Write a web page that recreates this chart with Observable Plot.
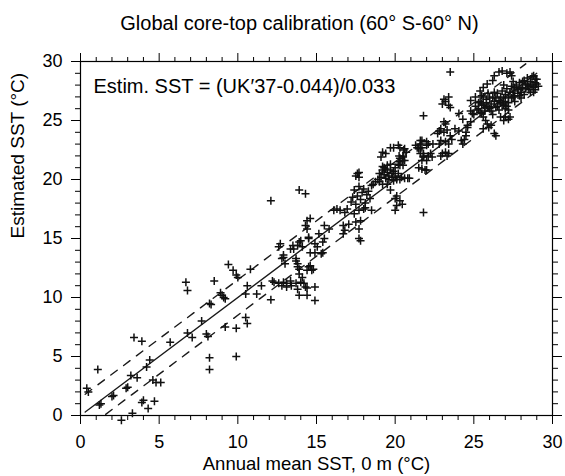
<!DOCTYPE html>
<html>
<head>
<meta charset="utf-8">
<script src="https://cdn.jsdelivr.net/npm/d3@7"></script>
<script src="https://cdn.jsdelivr.net/npm/@observablehq/plot@0.6"></script>
<style>
  html, body { margin: 0; padding: 0; background: #fff; }
  body { width: 565px; height: 476px; overflow: hidden; font-family: "Liberation Sans", Arial, Helvetica, sans-serif; color: #000; }
  #title { height: 40px; box-sizing: border-box; padding-top: 6px; line-height: 34px; font-size: 20px; margin-left: 34px; width: 531px; text-align: center; white-space: nowrap; }
</style>
</head>
<body>
<div id="title">Global core-top calibration (60° S-60° N)</div>
<div id="chart"></div>
<script>
// ---- text ----
const titleText = "Global core-top calibration (60° S-60° N)";
const xLabel = "Annual mean SST, 0 m (°C)";
const yLabel = "Estimated SST (°C)";
const equation = "Estim. SST = (UK′37-0.044)/0.033";

// ---- axis ticks ----
const majorTicks = [0, 5, 10, 15, 20, 25, 30];
const minorTicks = [1,2,3,4,6,7,8,9,11,12,13,14,16,17,18,19,21,22,23,24,26,27,28,29];

// ---- calibration lines (x, y) ----
const fitX = [0.3, 29.0];
const fitY = [0.3, 29.0];
const upperX = [0.3, 28.3];
const upperY = [1.8, 29.8];
const lowerX = [1.6, 29.2];
const lowerY = [0.1, 27.7];

// ---- core-top samples: [annual mean SST, estimated SST] ----
const pointsCold = [
  [0.4,2.3],[0.5,2.0],[1.1,3.9],[1.2,0.9],[1.3,1.0],[2.0,1.6],[2.1,1.7],[2.6,-0.4],[2.9,2.3],[3.0,2.4],
  [3.2,3.4],[3.3,0.2],[3.6,3.2],[3.4,6.6],[3.9,6.3],[3.9,1.1],[4.0,1.3],[4.2,4.1],[4.4,4.7],[4.3,0.6],
  [4.6,3.0],[4.7,1.2],[4.8,2.8],[5.1,2.8],[5.7,6.2],[6.7,11.3],[6.8,10.6],[6.8,7.0],[7.1,6.6],[7.7,8.0],
  [8.0,6.9],[8.1,6.7],[8.2,4.9],[8.2,3.9],[8.2,9.5],[8.3,9.4],[8.5,11.4],[8.9,10.4],[9.0,10.2],[9.1,10.0],
  [9.2,9.9],[9.2,7.5],[9.4,12.8],[9.7,12.3],[9.9,11.9],[10.0,11.7],[9.9,7.4],[9.9,5.0]
];
const pointsTemperate = [
  [10.5,10.3],[10.5,8.3],[10.6,7.8],[10.8,12.4],[10.6,11.0],[11.2,10.3],[11.5,11.0],[12.2,11.4],[12.1,9.8],[12.1,18.2],
  [12.3,11.3],[12.6,11.2],[12.9,11.3],[13.1,11.2],[13.35,11.4],[13.7,11.2],[14.0,11.3],[12.8,11.0],[13.1,10.9],[13.4,11.0],
  [13.8,10.7],[14.3,10.9],[13.9,10.2],[14.4,10.2],[14.9,9.75],[14.9,10.9],[14.1,11.7],[14.2,11.2],[14.4,10.8],
  [12.7,14.55],[13.35,14.1],[12.9,13.4],[13.0,12.85],[13.7,13.3],[13.8,12.85],[13.9,12.4],[14.4,12.3],[14.7,12.3],[14.5,12.6],
  [14.0,14.8],[14.1,14.3],[14.5,15.1],[14.9,14.55],[15.3,13.7],[14.3,16.1],[14.6,16.7],[15.15,15.4],
  [12.6,14.3],[12.9,13.6],[12.8,13.3],[13.7,13.1],[13.8,12.6],[13.9,12.0],[13.5,14.4],[13.55,14.1],[13.9,14.7],[13.8,14.4],
  [13.9,19.1],[14.3,18.8],[14.4,16.5],[14.4,15.8],[14.5,15.0],[14.9,13.8],[15.4,13.8],[15.5,15.0],[14.6,12.7],[14.8,12.4],
  [15.4,14.7],[15.05,14.3],[14.6,13.8],[15.5,16.1],[15.8,15.8],[16.1,17.4],[16.3,17.5],[16.5,17.4],[16.8,17.2],[16.95,17.5],
  [16.7,16.1],[17.05,16.2],[16.8,15.7],[16.7,15.4],[17.8,16.5],[17.8,14.8],[17.7,15.8],[17.5,16.4],[17.7,15.0]
];
const pointsSubtropical = [
  [17.5,20.3],[17.7,20.2],[17.7,20.6],[17.6,20.5],[17.2,18.1],[17.6,18.6],[17.4,19.1],[17.3,18.5],[17.5,17.9],[17.8,18.3],
  [17.9,18.9],[18.0,19.2],[18.1,18.0],[18.2,18.7],[18.3,19.0],[18.4,18.4],[17.7,19.4],[17.4,17.1],[17.7,17.4],[18.0,17.5],
  [18.1,17.6],[18.5,17.4],[18.5,19.5],[18.75,19.8],[18.6,19.6],[19.1,21.9],[19.2,22.3],[19.4,22.2],[19.7,22.7],[19.9,22.7],
  [20.2,22.9],[20.55,22.5],[20.45,21.6],[20.3,21.5],[20.2,21.3],[18.9,20.0],[19.0,20.5],[19.1,20.2],[19.2,20.8],[19.3,20.4],
  [19.3,21.0],[19.4,20.1],[19.5,20.6],[19.5,21.2],[19.6,20.3],[19.6,20.0],[19.7,20.8],[19.8,20.2],[19.8,20.5],[19.9,19.9],
  [19.9,20.7],[20.0,20.3],[20.1,20.0],[20.2,20.5],[20.0,21.0],[19.4,20.9],[19.2,21.1],[19.7,21.3],[20.4,20.2],[20.6,20.1],
  [20.8,20.1],[20.3,20.0],[19.0,19.8],[19.2,19.6],[19.5,19.6],[19.7,19.1],[20.3,22.7],[20.25,22.0],[20.3,21.8],[20.3,21.2],
  [20.1,18.6],[20.3,18.2],[20.1,17.8],[20.0,17.4],[20.0,18.4],[20.45,17.9],[20.9,20.1],[21.3,22.9],[21.6,23.3],[21.7,22.7],
  [22.0,23.2],[21.8,22.2],[22.1,22.0],[21.4,22.7],[22.0,22.9],[21.8,22.0],[22.0,20.8],[21.8,17.2],[20.5,21.2],[20.6,21.6],
  [20.5,22.0],[20.7,22.3],[20.6,22.6],[20.5,21.9]
];
const pointsTropical = [
  [21.8,25.4],[23.0,26.4],[23.4,27.0],[23.5,26.1],[23.1,24.9],[23.2,24.7],[22.9,24.3],[23.1,24.0],[22.8,24.1],[23.3,24.2],
  [23.5,23.7],[23.4,23.0],[23.6,23.4],[24.2,23.3],[24.3,23.0],[23.2,22.3],[23.4,22.2],[22.7,23.9],[22.4,23.0],[22.1,23.0],
  [21.6,23.0],[21.5,22.6],[21.6,22.2],[21.8,21.9],[21.7,21.6],[22.0,21.6],[21.5,21.0],[21.7,20.9],[21.9,20.8],[22.25,22.2],
  [22.35,21.9],[22.8,23.0],[22.9,22.0],[23.0,22.2],[24.6,24.4],[24.8,24.9],[24.9,25.6],[24.8,25.8],[24.05,25.6],[24.3,25.1],
  [25.3,26.0],[25.4,26.6],[25.5,27.1],[25.6,26.3],[25.7,25.8],[25.8,26.8],[25.9,26.2],[25.4,25.7],[25.6,27.0],[25.5,26.4],
  [25.75,25.0],[25.85,24.7],[23.5,29.1],[23.2,26.6],[23.4,26.3],[23.1,26.8],[23.8,24.3],[24.05,24.1],[24.5,23.7],[24.8,26.7],
  [25.1,27.0],[25.4,27.5],[26.3,23.9],[26.4,23.7],[26.7,25.3],[27.0,25.3],[27.3,25.3],[26.1,25.8],[26.4,26.1],[26.7,26.5],
  [27.0,26.0],[27.2,25.9],[26.9,26.3],[25.6,27.8],[25.85,28.1],[26.2,28.4],[26.3,28.8],[26.6,29.1],[26.8,29.2],[27.1,29.0],
  [27.3,29.1],[27.4,28.8],[24.6,24.6],[24.5,24.0],[24.4,23.4],[25.6,24.3],[25.95,24.4],[26.1,24.6],[26.9,25.0],[27.2,25.1],
  [28.8,28.8],[29.0,28.5],[28.9,28.2],[29.1,27.9],[28.9,27.6],[28.8,27.4],[28.2,28.4],[28.4,28.0],[28.1,27.8],[28.5,27.6],
  [28.0,27.4],[27.6,27.8],[27.8,27.3],[27.5,27.0],[28.0,26.9],[25.0,25.5],[25.2,25.9],[25.3,26.5],[25.5,25.6],[25.7,26.1],
  [25.8,26.5],[26.0,26.0],[26.0,26.9],[26.1,26.4],[26.2,27.0],[26.3,26.6],[26.4,26.9],[26.5,27.3],[26.5,26.2],[26.6,26.7],
  [26.7,27.0],[26.8,26.4],[26.8,27.5],[26.9,26.9],[27.0,27.2],[27.0,26.6],[27.1,27.7],[27.2,27.0],[27.2,26.5],[27.3,27.4],
  [27.4,26.9],[27.4,27.9],[27.5,27.5],[27.6,27.1],[27.6,26.6],[27.7,28.0],[27.8,27.6],[27.9,27.1],[27.9,28.2],[28.0,27.7],
  [28.1,28.3],[28.2,27.2],[28.3,27.7],[28.3,28.1],[28.4,28.6],[28.5,27.9],[28.6,28.3],[28.6,27.4],[28.7,28.0],[28.7,28.7],
  [28.8,27.8],[28.9,28.5],[29.0,28.1],[25.1,26.2],[25.9,27.3],[26.3,27.4],[26.6,25.9],[27.1,26.2],[26.9,28.0],[27.5,28.3],
  [25.6,25.3],[26.2,25.5],[22.9,23.3],[23.2,23.2],[23.3,22.0],[21.6,22.7],[21.7,23.3]
];

// ---- build tables for Plot ----
const samples = [...pointsCold, ...pointsTemperate, ...pointsSubtropical, ...pointsTropical]
  .map(([obs, est]) => ({obs, est}));
const toRows = (xs, ys) => xs.map((x, i) => ({x, y: ys[i]}));
const fitRows = toRows(fitX, fitY);
const upperRows = toRows(upperX, upperY);
const lowerRows = toRows(lowerX, lowerY);

// open "+" marker
const plusSymbol = {
  draw(context, size) {
    const s = Math.sqrt(size / Math.PI);
    context.moveTo(-s, 0); context.lineTo(s, 0);
    context.moveTo(0, -s); context.lineTo(0, s);
  }
};

const blank = () => "";
const chart = Plot.plot({
  width: 565,
  height: 436,
  marginTop: 21,
  marginBottom: 61,
  marginLeft: 80,
  marginRight: 13,
  x: {domain: [0, 30], label: null},
  y: {domain: [0, 30], label: null},
  style: {fontFamily: '"Liberation Sans", Arial, Helvetica, sans-serif', fontSize: "18px", color: "#000", background: "#fff", overflow: "visible"},
  marks: [
    // axes: ticks outward on all four sides
    Plot.axisX(majorTicks, {anchor: "bottom", tickSize: 9, tickPadding: 11, fontSize: 18, label: null}),
    Plot.axisX(minorTicks, {anchor: "bottom", tickSize: 5, tickFormat: blank, label: null}),
    Plot.axisX(majorTicks, {anchor: "top", tickSize: 9, tickFormat: blank, label: null}),
    Plot.axisX(minorTicks, {anchor: "top", tickSize: 5, tickFormat: blank, label: null}),
    Plot.axisY(majorTicks, {anchor: "left", tickSize: 9, tickPadding: 9, fontSize: 18, label: null}),
    Plot.axisY(minorTicks, {anchor: "left", tickSize: 5, tickFormat: blank, label: null}),
    Plot.axisY(majorTicks, {anchor: "right", tickSize: 9, tickFormat: blank, label: null}),
    Plot.axisY(minorTicks, {anchor: "right", tickSize: 5, tickFormat: blank, label: null}),
    Plot.frame({stroke: "#000", strokeWidth: 1.2}),
    // calibration lines
    Plot.line(fitRows, {x: "x", y: "y", stroke: "#1a1a1a", strokeWidth: 1.4}),
    Plot.line(upperRows, {x: "x", y: "y", stroke: "#1a1a1a", strokeWidth: 1.4, strokeDasharray: "8,8"}),
    Plot.line(lowerRows, {x: "x", y: "y", stroke: "#1a1a1a", strokeWidth: 1.4, strokeDasharray: "8,8"}),
    // samples
    Plot.dot(samples, {x: "obs", y: "est", symbol: plusSymbol, r: 4, fill: "none", stroke: "#111", strokeWidth: 1.5}),
    // annotations
    Plot.text([equation], {frameAnchor: "top-left", dx: 13, dy: 31, textAnchor: "start", lineAnchor: "bottom", fontSize: 20, fill: "#000"}),
    Plot.text([xLabel], {frameAnchor: "bottom", dy: 54, lineAnchor: "bottom", fontSize: 18.5, fill: "#000"}),
    Plot.text([yLabel], {frameAnchor: "left", dx: -57, rotate: -90, lineAnchor: "bottom", fontSize: 19, fill: "#000"})
  ]
});
document.getElementById("title").textContent = titleText;
document.getElementById("chart").appendChild(chart);
</script>
</body>
</html>
